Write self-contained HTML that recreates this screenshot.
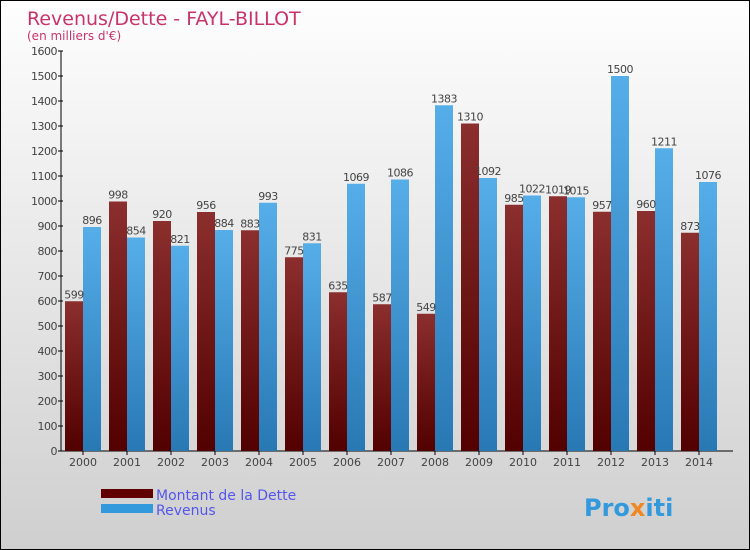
<!DOCTYPE html>
<html><head><meta charset="utf-8"><style>
body{margin:0}
#c{position:relative;width:748px;height:548px;border:1px solid #000;background:linear-gradient(#fefefe,#cfcfcf);overflow:hidden;font-family:"DejaVu Sans","Liberation Sans",sans-serif}
</style></head><body>
<div id="c">
<svg id="s" width="748" height="548">
<defs>
<linearGradient id="gd" x1="0" y1="0" x2="0" y2="1"><stop offset="0" stop-color="#8b2e2e"/><stop offset="1" stop-color="#520000"/></linearGradient>
<linearGradient id="gr" x1="0" y1="0" x2="0" y2="1"><stop offset="0" stop-color="#56aee8"/><stop offset="1" stop-color="#2878b4"/></linearGradient>
</defs>
<text x="26" y="24" font-size="19" fill="#c8336a">Revenus/Dette - FAYL-BILLOT</text>
<text x="26" y="39" font-size="12" fill="#c8336a">(en milliers d'€)</text>
<g id="axes"></g><g id="bars"></g>
<rect x="100" y="488" width="52" height="9" fill="#600000"/>
<text x="155" y="499" font-size="14" fill="#5555ee">Montant de la Dette</text>
<rect x="100" y="503" width="52" height="9" fill="#3399dd"/>
<text x="155" y="514" font-size="14" fill="#5555ee">Revenus</text>
<text x="583" y="515" font-size="24" font-weight="bold" fill="#3399dd">Pro<tspan fill="#ee8822">x</tspan>iti</text>
</svg></div>
<script>
const years=["2000","2001","2002","2003","2004","2005","2006","2007","2008","2009","2010","2011","2012","2013","2014"];
const dette=[599,998,920,956,883,775,635,587,549,1310,985,1019,957,960,873];
const revenus=[896,854,821,884,993,831,1069,1086,1383,1092,1022,1015,1500,1211,1076];
const yTicks=[0,100,200,300,400,500,600,700,800,900,1000,1100,1200,1300,1400,1500,1600];
const NS="http://www.w3.org/2000/svg";
const y=v=>450-v*0.25, x0=i=>64+i*44;
function mk(t,a,p){const e=document.createElementNS(NS,t);for(const k in a)e.setAttribute(k,a[k]);p.appendChild(e);return e;}
const ax=document.getElementById('axes'),bs=document.getElementById('bars');
let l=mk('line',{x1:60,y1:50,x2:60,y2:450,stroke:'#000'},ax);


l=mk('line',{x1:60,y1:450,x2:732,y2:450,stroke:'#000'},ax);


yTicks.forEach(v=>{
 mk('line',{x1:57,y1:y(v),x2:62,y2:y(v),stroke:'#000'},ax);
 const t=mk('text',{x:56,y:y(v)+4,'text-anchor':'end','font-size':11,fill:'#444','letter-spacing':'-0.5'},ax);t.textContent=v;
 
 
});
years.forEach((yr,i)=>{
 const t=mk('text',{x:x0(i)+18,y:465,'text-anchor':'middle','font-size':11,fill:'#444'},ax);t.textContent=yr;
 
 
 mk('line',{x1:x0(i)+18,y1:450,x2:x0(i)+18,y2:454,stroke:'#000'},ax);
 let r=mk('rect',{x:x0(i),y:y(dette[i]),width:18,height:450-y(dette[i]),fill:'url(#gd)'},bs);
 
 
 r=mk('rect',{x:x0(i)+18,y:y(revenus[i]),width:18,height:450-y(revenus[i]),fill:'url(#gr)'},bs);
 
 
 let lb=mk('text',{x:x0(i)+9,y:y(dette[i])-3,'text-anchor':'middle','font-size':11,fill:'#444','letter-spacing':'-0.5'},bs);lb.textContent=dette[i];
 
 
 lb=mk('text',{x:x0(i)+27,y:y(revenus[i])-3,'text-anchor':'middle','font-size':11,fill:'#444','letter-spacing':'-0.5'},bs);lb.textContent=revenus[i];
 
 
});
</script>
</body></html>
